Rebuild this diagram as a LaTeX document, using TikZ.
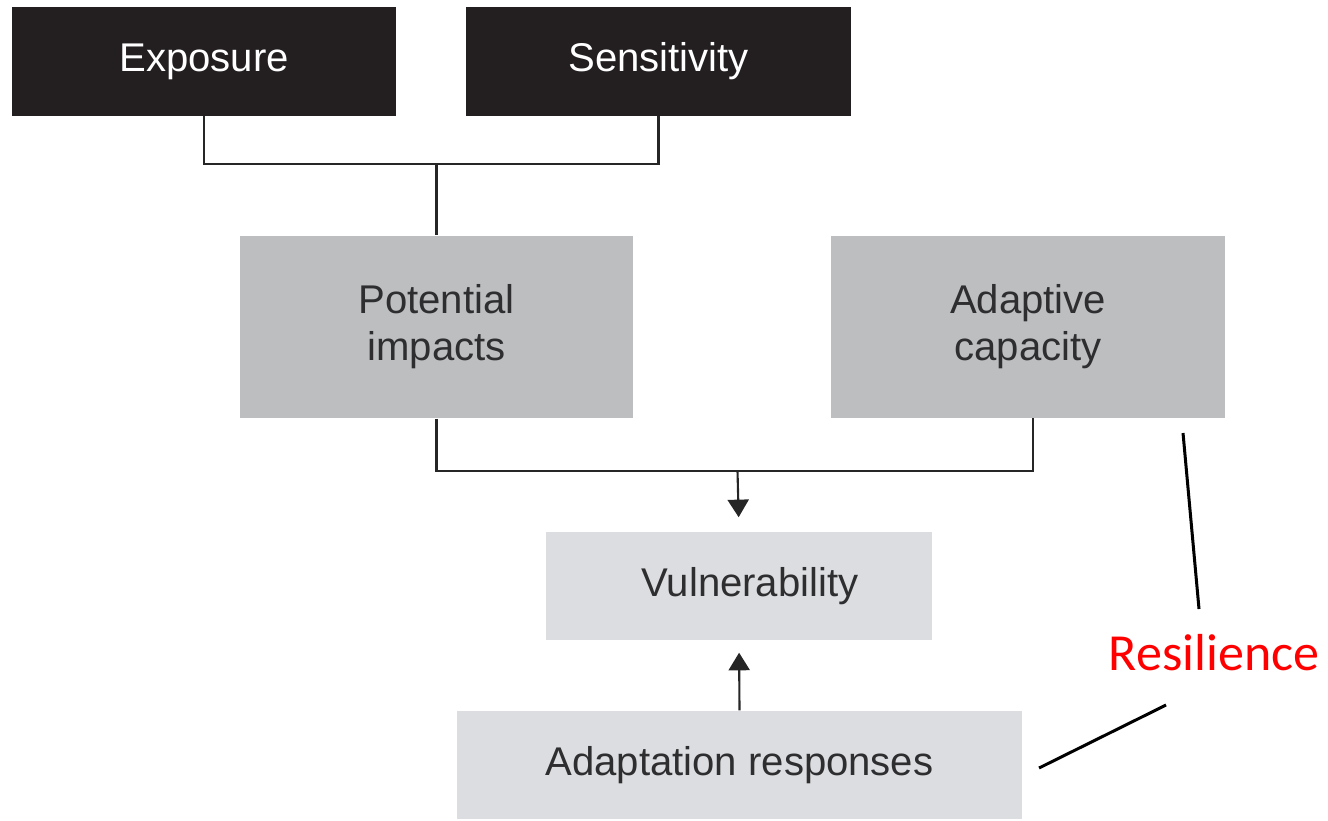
\documentclass[tikz,border=0pt]{standalone}
\usepackage{fontspec}
\setmainfont{Liberation Sans}
\newfontfamily\resfont{Carlito}
\usepackage{tikz}
\usetikzlibrary{arrows.meta}
\definecolor{boxblack}{HTML}{231F20}
\definecolor{boxgray}{HTML}{BCBEC0}
\definecolor{boxlight}{HTML}{DCDDE0}
\definecolor{txtdark}{HTML}{2E2E30}

\begin{document}
\begin{tikzpicture}[x=0.01cm, y=-0.01cm,
    lbl/.style={font=\fontsize{11.4}{13.4}\selectfont, align=center, inner sep=0pt},
    dark/.style={lbl, fill=boxblack, text=white, minimum width=3.84cm, minimum height=1.08cm},
    mid/.style={lbl, fill=boxgray, text=txtdark, minimum width=3.93cm, minimum height=1.82cm},
    light/.style={lbl, fill=boxlight, text=txtdark, minimum height=1.08cm},
    link/.style={line width=0.6pt, black!85},
    tip/.style={link, -{Triangle[length=5pt, width=6pt]}}]
    \useasboundingbox (0,0) rectangle (1328,820);
    \path
        (204,61.5) node(exposure)[dark]{Exposure}
        (658.5,61.5) node(sensitivity)[dark]{Sensitivity}
        (436.5,327) node(potential)[mid]{Potential\\impacts}
        (1028,327) node(adaptive)[mid]{Adaptive\\capacity}
        (739,586) node(vulnerability)[light, minimum width=3.86cm]{\hspace*{0.22cm}Vulnerability}
        (739.5,765) node(responses)[light, minimum width=5.65cm]{Adaptation responses}
        (1214,653) node(resilience)[font=\resfont\fontsize{14.8}{16}\selectfont, text=red, inner sep=0pt]{Resilience};
    \coordinate (join1) at (436.5,164);
    \coordinate (join2) at (737.5,471);
    \coordinate (capin) at (1033,418);
    \coordinate (cap1) at (1183,433);
    \coordinate (cap2) at (1199,609);
    \coordinate (res1) at (1166,705);
    \coordinate (res2) at (1039,768);
    \draw [link] (exposure.south) |- (join1) -| (sensitivity.south);
    \draw [link] (join1) -- (potential.north);
    \draw [link] (potential.south) |- (join2) -| (capin);
    \draw [tip, shorten >=4pt] (join2) -- (vulnerability.north);
    \draw [tip, shorten >=3.4pt] (responses.north) -- (vulnerability.south);
    \draw [line width=0.85pt] (cap1) -- (cap2);
    \draw [line width=0.85pt] (res1) -- (res2);
\end{tikzpicture}
\end{document}
